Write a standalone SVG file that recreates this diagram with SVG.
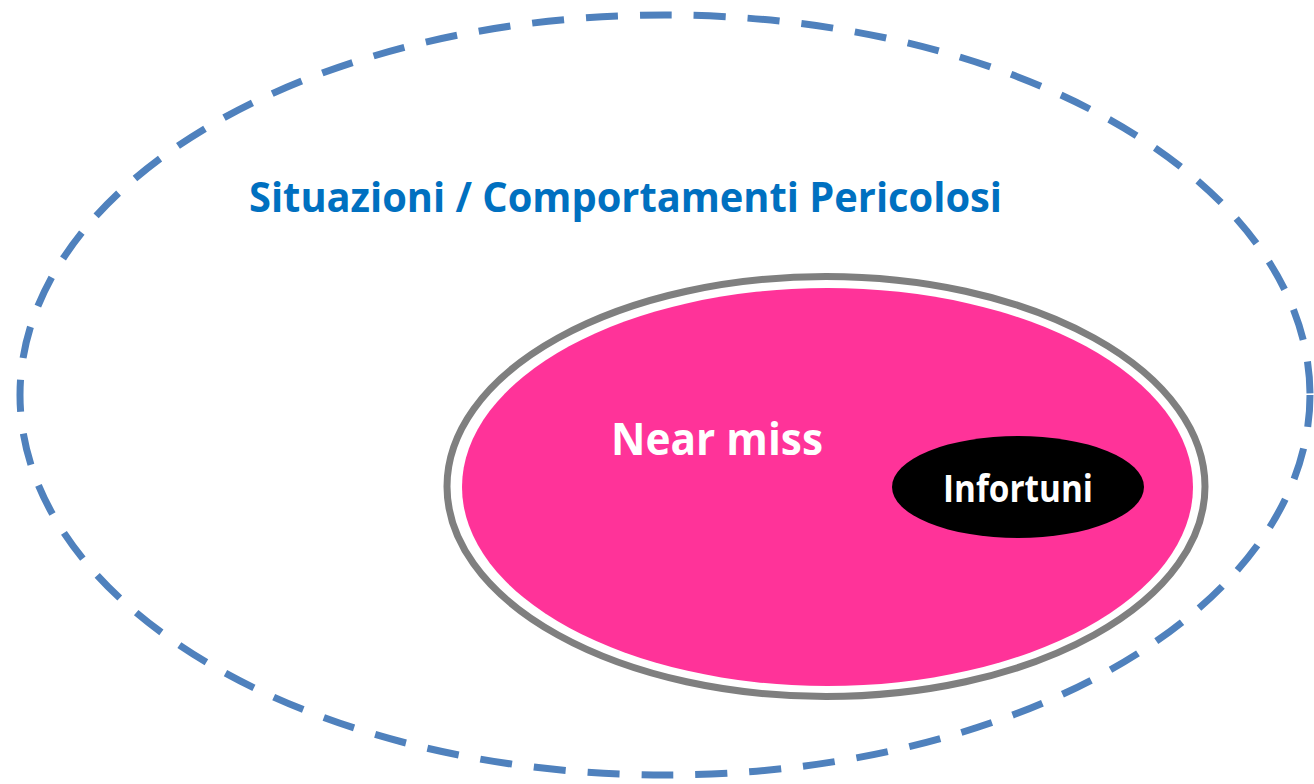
<svg xmlns="http://www.w3.org/2000/svg" width="1314" height="784" viewBox="0 0 1314 784">
  <style>
    .lbl { font-family: "Open Sans", "Noto Sans", "Liberation Sans", sans-serif; font-weight: bold; }
  </style>
  <rect width="1314" height="784" fill="#FFFFFF"/>
  <g id="situazioni">
    <ellipse cx="665" cy="395" rx="645" ry="380" fill="none" stroke="#4F81BD" stroke-width="7" stroke-dasharray="32 22"/>
    <text class="lbl" x="249" y="212" font-size="41" fill="#0070C0" textLength="753" lengthAdjust="spacingAndGlyphs">Situazioni / Comportamenti Pericolosi</text>
  </g>
  <g id="nearmiss">
    <ellipse cx="826" cy="486.5" rx="379" ry="210" fill="#FFFFFF" stroke="#7F7F7F" stroke-width="7"/>
    <ellipse cx="827.5" cy="487" rx="365.5" ry="199" fill="#FF3399"/>
    <text class="lbl" x="611" y="455" font-size="44" fill="#FFFFFF" textLength="212" lengthAdjust="spacingAndGlyphs">Near miss</text>
  </g>
  <g id="infortuni">
    <ellipse cx="1018" cy="487" rx="126" ry="51" fill="#000000"/>
    <text class="lbl" x="943" y="502" font-size="37" fill="#FFFFFF" textLength="150" lengthAdjust="spacingAndGlyphs">Infortuni</text>
  </g>
  <g id="connectors"/>
</svg>
